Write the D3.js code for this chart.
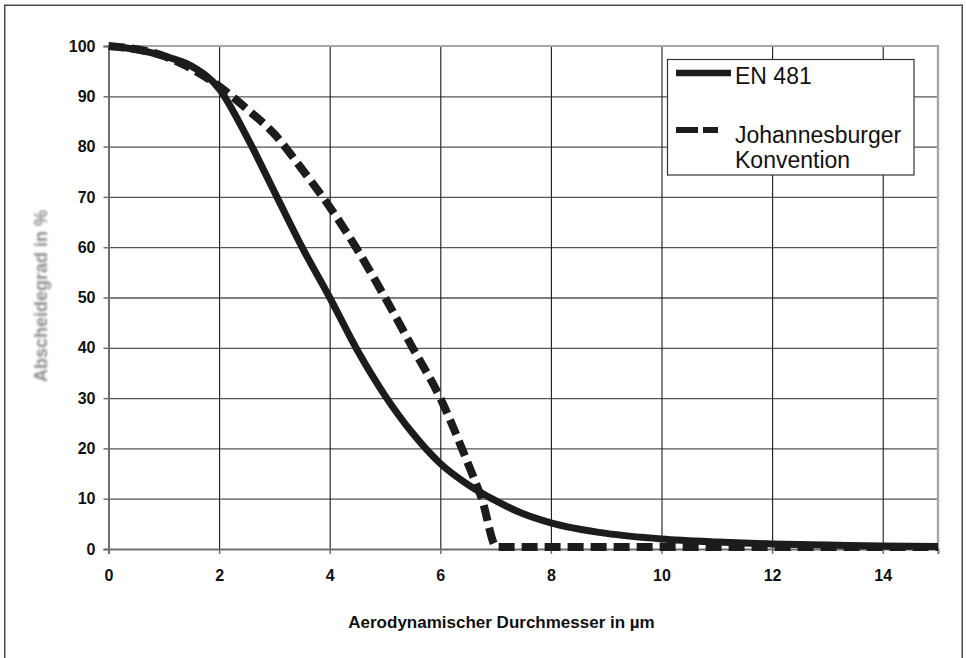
<!DOCTYPE html>
<html>
<head>
<meta charset="utf-8">
<script src="https://cdn.jsdelivr.net/npm/d3@7/dist/d3.min.js"></script>
<style>
  html, body { margin: 0; padding: 0; background: #fff; }
  svg { display: block; }
  text { font-family: "Liberation Sans", Arial, sans-serif; }
</style>
</head>
<body>
<svg id="chart" width="966" height="658"></svg>
<script>
// ---- data ----
const xTicks = [0, 2, 4, 6, 8, 10, 12, 14];
const yTicks = [0, 10, 20, 30, 40, 50, 60, 70, 80, 90, 100];

const en481X = [0, 0.5, 1, 1.5, 2, 2.5, 3, 3.5, 4, 4.5, 5, 5.5, 6, 6.5, 7, 7.5, 8, 9, 10, 11, 12, 13, 14, 15];
const en481Y = [100, 99.3, 98, 96, 91.5, 82, 71, 60, 50, 39.5, 30.5, 23, 17, 12.8, 9.6, 7, 5.2, 3.1, 2, 1.4, 1, 0.8, 0.6, 0.5];

const joburgX = [0, 1, 2, 2.5, 3, 3.5, 4, 4.5, 5, 5.5, 6, 6.5, 6.75, 7.02, 8, 10, 12, 15];
const joburgY = [100, 98, 92, 87.5, 82.5, 75.5, 68, 59.5, 50, 40, 30, 17, 10, 0.4, 0.4, 0.4, 0.4, 0.4];

const seriesNames = ["EN 481", "Johannesburger", "Konvention"];
const xTitle = "Aerodynamischer Durchmesser in µm";
const yTitle = "Abscheidegrad in %";

// ---- layout ----
const svg = d3.select("#chart");
const pLeft = 108.5, pRight = 938, pTop = 46, pBottom = 549;

const x = d3.scaleLinear().domain([0, 15]).range([pLeft, pRight]);
const y = d3.scaleLinear().domain([0, 100]).range([pBottom, pTop]);

const defs = svg.append("defs");
defs.append("filter").attr("id", "blur").attr("x", "-20%").attr("y", "-20%").attr("width", "140%").attr("height", "140%")
  .append("feGaussianBlur").attr("stdDeviation", 1.0);
defs.append("clipPath").attr("id", "plotclip").append("rect")
  .attr("x", pLeft).attr("y", pTop - 10).attr("width", pRight - pLeft).attr("height", pBottom - pTop + 20);

// outer frame
svg.append("rect").attr("x", 4.75).attr("y", 5.25).attr("width", 957.5).attr("height", 700)
  .attr("fill", "none").attr("stroke", "#4a4a4a").attr("stroke-width", 1.5);

// horizontal gridlines
const gy = svg.append("g").attr("transform", `translate(${pLeft},0)`)
  .call(d3.axisLeft(y).tickValues(yTicks.filter(d => d > 0 && d < 100)).tickSize(-(pRight - pLeft)).tickFormat(""));
gy.select(".domain").remove();
gy.selectAll("line").attr("stroke", "#555").attr("stroke-width", 1.3);

// vertical gridlines
const gx = svg.append("g").attr("transform", `translate(0,${pBottom})`)
  .call(d3.axisBottom(x).tickValues(xTicks.filter(d => d > 0)).tickSize(-(pBottom - pTop)).tickFormat(""));
gx.select(".domain").remove();
gx.selectAll("line").attr("stroke", "#1a1a1a").attr("stroke-width", 1.1);

// plot border top/right (light gray)
svg.append("line").attr("x1", pLeft).attr("x2", pRight + 1).attr("y1", pTop).attr("y2", pTop)
  .attr("stroke", "#a6a6a6").attr("stroke-width", 2);
svg.append("line").attr("x1", pRight).attr("x2", pRight).attr("y1", pTop).attr("y2", pBottom)
  .attr("stroke", "#a6a6a6").attr("stroke-width", 2.4);

// axes
const yAxis = svg.append("g").attr("transform", `translate(${pLeft},0)`)
  .call(d3.axisLeft(y).tickValues(yTicks).tickSize(5).tickPadding(8));
yAxis.select(".domain").attr("stroke", "#6e6e6e").attr("stroke-width", 2);
yAxis.selectAll(".tick line").attr("stroke", "#6e6e6e").attr("stroke-width", 1.5);
yAxis.selectAll(".tick text").attr("font-size", 16).attr("font-weight", "bold").attr("fill", "#111")
  .attr("font-family", "'Liberation Sans', Arial, sans-serif");

const xAxis = svg.append("g").attr("transform", `translate(0,${pBottom})`)
  .call(d3.axisBottom(x).tickValues(xTicks).tickSize(5).tickPadding(16));
xAxis.select(".domain").attr("stroke", "#6e6e6e").attr("stroke-width", 2);
xAxis.selectAll(".tick line").attr("stroke", "#6e6e6e").attr("stroke-width", 1.5);
xAxis.selectAll(".tick text").attr("font-size", 16).attr("font-weight", "bold").attr("fill", "#111")
  .attr("font-family", "'Liberation Sans', Arial, sans-serif");

// lines
const line = d3.line().x(d => x(d[0])).y(d => y(d[1])).curve(d3.curveMonotoneX);
const solidData = en481X.map((v, i) => [v, en481Y[i]]);
const dashData = joburgX.map((v, i) => [v, joburgY[i]]);

const plot = svg.append("g").attr("clip-path", "url(#plotclip)");
plot.append("path").datum(dashData).attr("d", line)
  .attr("fill", "none").attr("stroke", "#1c1c1c").attr("stroke-width", 8)
  .attr("stroke-dasharray", "16,7");
plot.append("path").datum(solidData).attr("d", line)
  .attr("fill", "none").attr("stroke", "#1c1c1c").attr("stroke-width", 7);

// legend
const lg = svg.append("g");
lg.append("rect").attr("x", 667.5).attr("y", 59.5).attr("width", 246.5).attr("height", 115.5)
  .attr("fill", "#fff").attr("stroke", "#333").attr("stroke-width", 1.2);
lg.append("line").attr("x1", 676).attr("x2", 731).attr("y1", 73).attr("y2", 73)
  .attr("stroke", "#1c1c1c").attr("stroke-width", 6.5);
lg.append("line").attr("x1", 676).attr("x2", 718).attr("y1", 130).attr("y2", 130)
  .attr("stroke", "#1c1c1c").attr("stroke-width", 6).attr("stroke-dasharray", "22,5");
lg.append("text").attr("x", 735).attr("y", 83.5).attr("font-size", 23).attr("fill", "#111").text(seriesNames[0]);
lg.append("text").attr("x", 735).attr("y", 142.5).attr("font-size", 23).attr("fill", "#111").text(seriesNames[1]);
lg.append("text").attr("x", 735).attr("y", 168).attr("font-size", 23).attr("fill", "#111").text(seriesNames[2]);

// titles
svg.append("text").attr("x", 501.5).attr("y", 628).attr("text-anchor", "middle")
  .attr("font-size", 17).attr("font-weight", "bold").attr("fill", "#111").text(xTitle);
svg.append("text").attr("transform", "translate(47,296) rotate(-90)").attr("text-anchor", "middle")
  .attr("font-size", 18).attr("font-weight", "bold").attr("fill", "#8c8c8c").attr("filter", "url(#blur)").text(yTitle);
</script>
</body>
</html>
